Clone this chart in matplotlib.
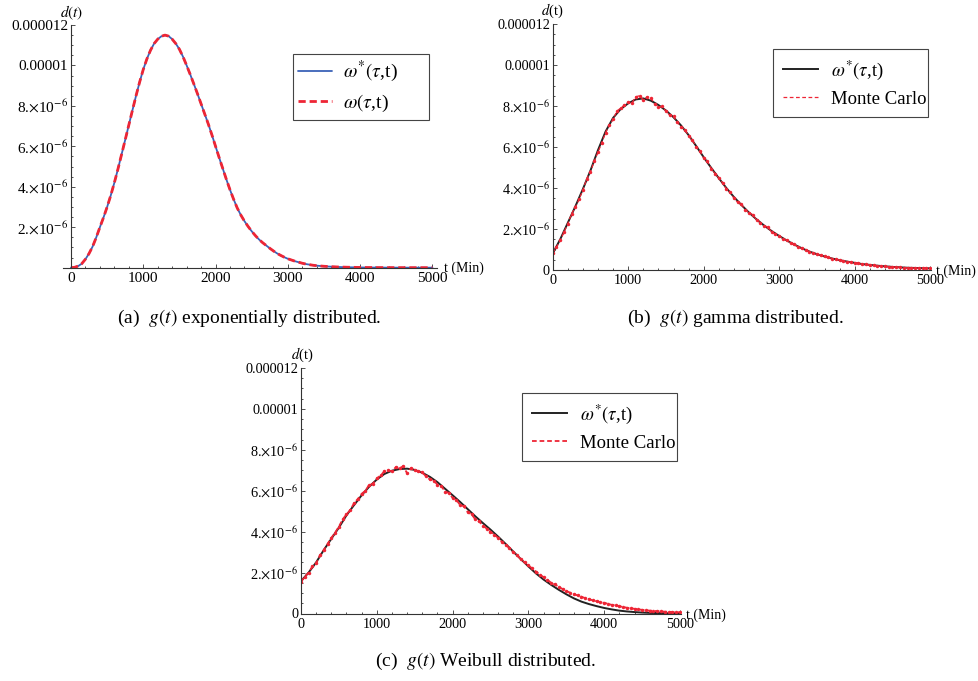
import numpy as np
import matplotlib
matplotlib.use("Agg")
import matplotlib.pyplot as plt

plt.rcParams['font.family'] = ['Liberation Serif', 'DejaVu Serif']
plt.rcParams['mathtext.fontset'] = 'stix'

SCALE = 1e-6  # values below are in units of 1e-6

# ---------------- data ----------------
t_curve = np.arange(0, 5001, 100)
t_fine = np.arange(0, 5001, 50)

# (a) exponential: omega* (blue) and omega (red dashed)
omega_star_a = [0, 0.02, 0.08, 0.2, 0.42, 0.7, 1.05, 1.5, 2.0, 2.48,
                3.0, 3.57, 4.2, 4.88, 5.6, 6.32, 7.05, 7.78, 8.5, 9.18,
                9.8, 10.32, 10.75, 11.08, 11.3, 11.44, 11.5, 11.45, 11.3, 11.08,
                10.8, 10.43, 10.0, 9.55, 9.08, 8.6, 8.1, 7.6, 7.1, 6.56,
                6.0, 5.44, 4.9, 4.36, 3.85, 3.38, 2.95, 2.6, 2.3, 2.04,
                1.8, 1.59, 1.4, 1.24, 1.1, 0.96, 0.83, 0.71, 0.61, 0.52,
                0.44, 0.38, 0.32, 0.27, 0.22, 0.18, 0.15, 0.12, 0.1, 0.085,
                0.07, 0.06, 0.05, 0.042, 0.035, 0.03, 0.025, 0.021, 0.018, 0.015,
                0.012, 0.01, 0.008, 0.007, 0.006, 0.005, 0.004, 0.0035, 0.003, 0.0025,
                0.002, 0.002, 0.0015, 0.0015, 0.001, 0.001, 0.001, 0.001, 0.001, 0.001,
                0.001]
omega_a = [0, 0.02, 0.08, 0.2, 0.42, 0.7, 1.05, 1.5, 2.0, 2.48,
           3.0, 3.57, 4.2, 4.88, 5.6, 6.32, 7.05, 7.78, 8.5, 9.18,
           9.8, 10.32, 10.75, 11.08, 11.3, 11.44, 11.5, 11.45, 11.3, 11.08,
           10.8, 10.43, 10.0, 9.55, 9.08, 8.6, 8.1, 7.6, 7.1, 6.56,
           6.0, 5.44, 4.9, 4.36, 3.85, 3.38, 2.95, 2.6, 2.3, 2.04,
           1.8, 1.59, 1.4, 1.24, 1.1, 0.96, 0.83, 0.71, 0.61, 0.52,
           0.44, 0.38, 0.32, 0.27, 0.22, 0.18, 0.15, 0.12, 0.1, 0.085,
           0.07, 0.06, 0.05, 0.042, 0.035, 0.03, 0.025, 0.021, 0.018, 0.015,
           0.012, 0.01, 0.008, 0.007, 0.006, 0.005, 0.004, 0.0035, 0.003, 0.0025,
           0.002, 0.002, 0.0015, 0.0015, 0.001, 0.001, 0.001, 0.001, 0.001, 0.001,
           0.001]

# (b) gamma
omega_star_b = [0.8, 1.5, 2.3, 3.1, 3.95, 4.85, 5.85, 6.75, 7.42, 7.85,
                8.13, 8.32, 8.37, 8.26, 8.05, 7.78, 7.45, 7.05, 6.58, 6.05,
                5.5, 4.98, 4.48, 4.0, 3.56, 3.17, 2.8, 2.47, 2.17, 1.9,
                1.66, 1.44, 1.24, 1.06, 0.9, 0.77, 0.66, 0.56, 0.48, 0.41,
                0.35, 0.29, 0.25, 0.21, 0.18, 0.15, 0.13, 0.11, 0.1, 0.09,
                0.08]
monte_carlo_b = [0.85, 1.1, 1.45, 1.85, 2.25, 2.75, 3.05, 3.45, 3.9, 4.45,
                 4.8, 5.3, 5.75, 6.2, 6.7, 7.05, 7.35, 7.75, 7.9, 8.05,
                 8.2, 8.15, 8.45, 8.5, 8.3, 8.45, 8.4, 8.1, 7.95, 7.98,
                 7.75, 7.55, 7.5, 7.2, 7.0, 6.85, 6.55, 6.35, 6.0, 5.8,
                 5.45, 5.3, 4.95, 4.7, 4.5, 4.25, 3.95, 3.8, 3.5, 3.3,
                 3.2, 2.95, 2.8, 2.7, 2.45, 2.3, 2.15, 2.1, 1.85, 1.75,
                 1.68, 1.52, 1.45, 1.32, 1.25, 1.12, 1.05, 0.98, 0.9, 0.84,
                 0.78, 0.72, 0.66, 0.62, 0.56, 0.52, 0.49, 0.44, 0.41, 0.38,
                 0.35, 0.32, 0.29, 0.27, 0.25, 0.23, 0.21, 0.19, 0.18, 0.16,
                 0.15, 0.14, 0.13, 0.12, 0.11, 0.1, 0.1, 0.09, 0.09, 0.08,
                 0.08]

# (c) Weibull
omega_star_c = [1.58, 2.0, 2.5, 3.1, 3.65, 4.2, 4.8, 5.3, 5.78, 6.2,
                6.55, 6.82, 6.98, 7.06, 7.08, 7.02, 6.88, 6.68, 6.42, 6.1,
                5.78, 5.45, 5.1, 4.75, 4.42, 4.1, 3.76, 3.4, 3.03, 2.66,
                2.3, 1.96, 1.66, 1.4, 1.16, 0.94, 0.74, 0.58, 0.46, 0.36,
                0.27, 0.2, 0.14, 0.1, 0.07, 0.045, 0.03, 0.02, 0.012, 0.007,
                0.004]
monte_carlo_c = [1.55, 1.8, 2.0, 2.3, 2.45, 2.85, 3.1, 3.4, 3.7, 3.95,
                 4.25, 4.6, 4.85, 5.05, 5.4, 5.6, 5.85, 6.0, 6.3, 6.35,
                 6.6, 6.75, 6.95, 7.0, 6.95, 7.15, 7.1, 7.2, 6.85, 7.1,
                 7.0, 6.95, 6.9, 6.7, 6.55, 6.5, 6.3, 6.25, 5.95, 5.9,
                 5.65, 5.55, 5.3, 5.25, 4.95, 4.85, 4.6, 4.5, 4.3, 4.15,
                 4.0, 3.85, 3.7, 3.5, 3.35, 3.2, 3.0, 2.85, 2.65, 2.5,
                 2.35, 2.2, 2.05, 1.9, 1.78, 1.65, 1.5, 1.42, 1.3, 1.2,
                 1.1, 1.02, 0.95, 0.88, 0.82, 0.75, 0.7, 0.64, 0.6, 0.55,
                 0.52, 0.48, 0.42, 0.4, 0.35, 0.32, 0.28, 0.25, 0.23, 0.2,
                 0.18, 0.16, 0.14, 0.13, 0.11, 0.1, 0.09, 0.08, 0.07, 0.06,
                 0.06]

x_ticks = [0, 1000, 2000, 3000, 4000, 5000]
x_ticklabels = ['0', '1000', '2000', '3000', '4000', '5000']
y_ticks_a = [2e-6, 4e-6, 6e-6, 8e-6, 10e-6, 12e-6]
y_ticklabels_a = [r'2.$\times$10$^{-6}$', r'4.$\times$10$^{-6}$', r'6.$\times$10$^{-6}$',
                  r'8.$\times$10$^{-6}$', '0.00001', '0.000012']
y_ticks_bc = [0] + y_ticks_a
y_ticklabels_bc = ['0'] + y_ticklabels_a

label_star = r'$\omega^{*}(\tau$,t)'
label_omega = r'$\omega(\tau$,t)'
label_mc = 'Monte Carlo'

BLUE = '#3b62b8'
RED = '#ee2535'
BLACK = '#222222'
AXC = '#333333'

W, H = 979, 681
fig = plt.figure(figsize=(W / 100, H / 100), dpi=100)


def px_axes(x0, y_bottom, x1, y_top):
    return fig.add_axes([x0 / W, 1 - y_bottom / H, (x1 - x0) / W, (y_bottom - y_top) / H])


def style_axes(ax, fs, yt, ytl, xlim):
    ax.set_xlim(*xlim)
    ax.set_ylim(0, 12e-6)
    for s in ['top', 'right']:
        ax.spines[s].set_visible(False)
    ax.spines['left'].set_position(('data', 0))
    for s in ['left', 'bottom']:
        ax.spines[s].set_color(AXC)
        ax.spines[s].set_linewidth(0.8)
    ax.set_xticks(x_ticks)
    ax.set_xticklabels(x_ticklabels, fontsize=fs)
    ax.set_yticks(yt)
    ax.set_yticklabels(ytl, fontsize=fs)
    ax.set_xticks(np.arange(200, 5000, 200), minor=True)
    ax.set_yticks(np.arange(0.5e-6, 12e-6, 0.5e-6), minor=True)
    ax.tick_params(which='both', direction='in', color=AXC, width=0.6)
    ax.tick_params(which='major', length=3.0)
    ax.tick_params(which='minor', length=1.7)
    ax.tick_params(axis='y', which='major', pad=2)
    ax.tick_params(axis='x', which='major', pad=3)
    ax.patch.set_alpha(0)


def legend(ax, box, fs, hl, htp, bp, ls):
    x0, y0, x1, y1 = box
    leg = ax.legend(loc='upper left', mode='expand',
                    bbox_to_anchor=(x0 / W, 1 - y1 / H, (x1 - x0) / W, (y1 - y0) / H),
                    bbox_transform=fig.transFigure, borderaxespad=0,
                    fontsize=fs, handlelength=hl, handletextpad=htp,
                    borderpad=bp, labelspacing=ls, fancybox=False,
                    framealpha=1, edgecolor='#444444')
    leg.get_frame().set_linewidth(0.8)
    return leg


# ---------------- (a) ----------------
ax_a = px_axes(63.3, 267.7, 436.8, 25)
style_axes(ax_a, 11, y_ticks_a, y_ticklabels_a, (-106, 5060))
ax_a.plot(t_fine, np.array(omega_star_a) * SCALE, color=BLUE, lw=1.3,
          label=label_star, solid_capstyle='round')
ax_a.plot(t_fine, np.array(omega_a) * SCALE, color=RED, lw=2.0,
          dashes=(2.6, 1.4), label=label_omega)
legend(ax_a, (292.7, 54, 429, 118), 14, 1.75, 0.57, 0.27, 0.45)

# ---------------- (b) ----------------
ax_b = px_axes(552.7, 270, 552.7 + 5010 * 0.0755, 24)
style_axes(ax_b, 10.3, y_ticks_bc, y_ticklabels_bc, (0, 5010))
ax_b.plot(t_curve, np.array(omega_star_b) * SCALE, color=BLACK, lw=1.4, label=label_star)
ax_b.plot(t_fine, np.array(monte_carlo_b) * SCALE, color=RED, lw=0.9,
          dashes=(3, 2), label=label_mc)
ax_b.plot(t_fine, np.array(monte_carlo_b) * SCALE, ls='none', marker='o', ms=2.5,
          mec='none', mfc=RED)
legend(ax_b, (773.3, 49.3, 928.3, 115), 13.5, 1.87, 0.73, 0.5, 0.45)

# ---------------- (c) ----------------
ax_c = px_axes(301, 613.5, 301 + 5010 * 0.0758, 368)
style_axes(ax_c, 10.3, y_ticks_bc, y_ticklabels_bc, (0, 5010))
ax_c.plot(t_curve, np.array(omega_star_c) * SCALE, color=BLACK, lw=1.4, label=label_star)
ax_c.plot(t_fine, np.array(monte_carlo_c) * SCALE, color=RED, lw=1.3,
          dashes=(2.6, 1.6), label=label_mc)
ax_c.plot(t_fine, np.array(monte_carlo_c) * SCALE, ls='none', marker='o', ms=2.5,
          mec='none', mfc=RED)
legend(ax_c, (522.3, 393.3, 677.3, 459), 13.5, 1.87, 0.73, 0.5, 0.45)

# ---------------- axis labels & captions ----------------
def ftext(x, y, s, **kw):
    fig.text(x / W, 1 - y / H, s, **kw)

ftext(71.5, 12.5, r'$d(t)$', ha='center', va='center', fontsize=11)
ftext(552.5, 11, r'$d$(t)', ha='center', va='center', fontsize=10.5)
ftext(302, 355, r'$d$(t)', ha='center', va='center', fontsize=10.5)

ftext(444, 268, 't (Min)', ha='left', va='center', fontsize=10)
ftext(936, 271, 't (Min)', ha='left', va='center', fontsize=10)
ftext(686, 615, 't (Min)', ha='left', va='center', fontsize=10)

ftext(249, 318, r'(a)  $g(t)$ exponentially distributed.', ha='center', va='center', fontsize=14)
ftext(735.5, 318, r'(b)  $g(t)$ gamma distributed.', ha='center', va='center', fontsize=14)
ftext(486, 661, r'(c)  $g(t)$ Weibull distributed.', ha='center', va='center', fontsize=14)

fig.savefig('out.png', dpi=100)
